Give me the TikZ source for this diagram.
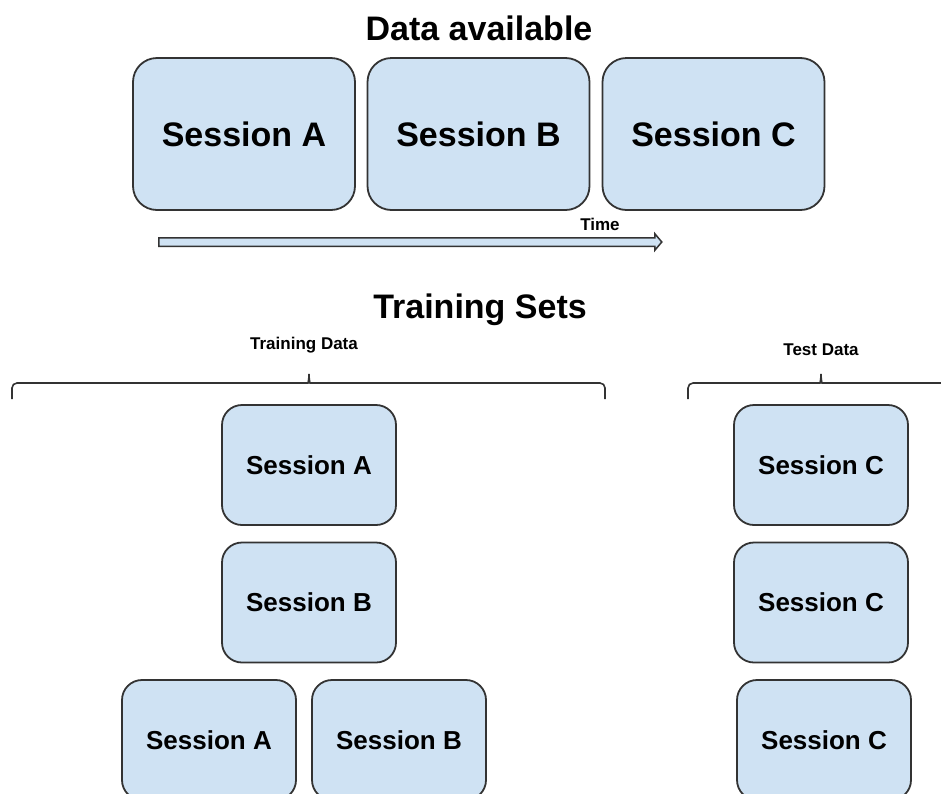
\documentclass[tikz,border=0pt]{standalone}
\usepackage{fontspec}
\setmainfont{Liberation Sans}
\usetikzlibrary{shapes.arrows}
\definecolor{boxblue}{HTML}{CFE2F3}
\definecolor{edgegray}{HTML}{333333}
\tikzset{
    bigbox/.style = {rectangle, rounded corners=24pt, draw=edgegray, line width=1.8pt, fill=boxblue, minimum width=222pt, minimum height=152pt, inner sep=0pt, font=\fontsize{34}{40}\selectfont\bfseries},
    smallbox/.style = {rectangle, rounded corners=20pt, draw=edgegray, line width=1.8pt, fill=boxblue, minimum width=174pt, minimum height=120pt, inner sep=0pt, font=\fontsize{26}{30}\selectfont\bfseries},
    heading/.style = {inner sep=0pt, font=\fontsize{34}{40}\selectfont\bfseries},
    caption/.style = {inner sep=0pt, font=\fontsize{17}{20}\selectfont\bfseries},
    bracket/.style = {line width=1.6pt, draw=edgegray, rounded corners=5pt},
    timeline/.style = {single arrow, draw=edgegray, line width=1.5pt, fill=boxblue, minimum height=503pt, inner xsep=0pt, inner ysep=3.5pt, single arrow head extend=4pt, single arrow tip angle=100}
}

\begin{document}
\begin{tikzpicture}[x=1pt, y=-1pt]
\clip (0,0) rectangle (941,793);
%
\node[heading] at (479,28) (avail) {Data available};
\node[bigbox] at (244,134) (sa) {Session A};
\node[bigbox] at (478.5,134) (sb) {Session B};
\node[bigbox] at (713.5,134) (sc) {Session C};
%
\node[timeline] at (408.5,242) (timearrow) {};
\node[caption] at (600,224) (time) {Time};
%
\node[heading] at (480,310) (sets) {Training Sets};
\node[caption] at (304,345) (traincap) {Training Data};
\node[caption] at (821,350) (testcap) {Test Data};
%
\draw[bracket] (12,399) -- (12,383) -- (303,383) to[out=0,in=-90] (309,371)
    to[out=-90,in=180] (315,383) -- (605,383) -- (605,399);
\draw[bracket] (688,399) -- (688,383) -- (815,383) to[out=0,in=-90] (821,371)
    to[out=-90,in=180] (827,383) -- (950,383);
%
\node[smallbox] at (309,465) (ta) {Session A};
\node[smallbox] at (309,602.5) (tb) {Session B};
\node[smallbox] at (209,740) (tab_a) {Session A};
\node[smallbox] at (399,740) (tab_b) {Session B};
%
\node[smallbox] at (821,465) (tc1) {Session C};
\node[smallbox] at (821,602.5) (tc2) {Session C};
\node[smallbox] at (824,740) (tc3) {Session C};
\end{tikzpicture}
\end{document}
